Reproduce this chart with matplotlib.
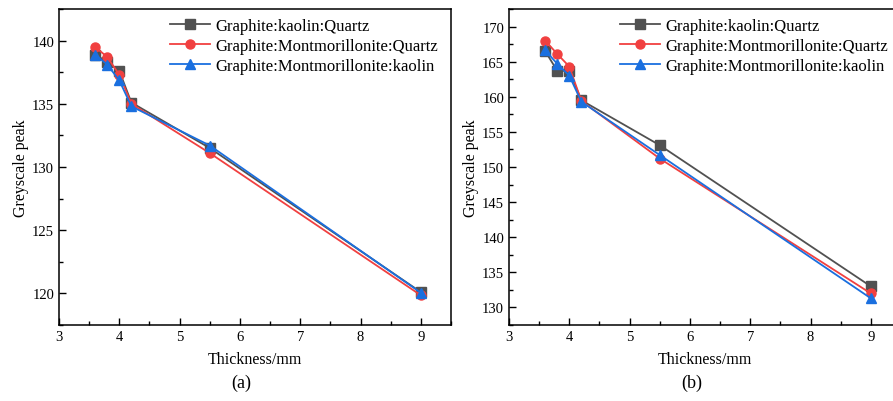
import numpy as np
import matplotlib.pyplot as plt
from matplotlib.ticker import MultipleLocator

plt.rcParams['font.family'] = ['Liberation Serif', 'DejaVu Serif']

# thickness values (mm)
thickness = [3.6, 3.8, 4.0, 4.2, 5.5, 9.0]

labels = ['Graphite:kaolin:Quartz',
          'Graphite:Montmorillonite:Quartz',
          'Graphite:Montmorillonite:kaolin']

# (a) greyscale peaks
a_kq = [138.9, 138.3, 137.6, 135.1, 131.5, 120.1]
a_mq = [139.5, 138.7, 137.3, 135.0, 131.1, 119.85]
a_mk = [138.9, 138.1, 136.85, 134.8, 131.7, 120.05]

# (b) greyscale peaks
b_kq = [166.5, 163.7, 163.7, 159.5, 153.1, 133.0]
b_mq = [168.0, 166.1, 164.3, 159.4, 151.2, 132.0]
b_mk = [166.6, 164.7, 163.0, 159.3, 151.7, 131.3]

colors = ['#515151', '#F14040', '#1A6FDF']
markers = ['s', 'o', '^']


def plotPanel(ax, series, ylim, tag):
    for y, lab, c, m in zip(series, labels, colors, markers):
        ax.plot(thickness, y, color = c, marker = m, markersize = 6.5, linewidth = 1.3, label = lab)

    ax.set_xlim(3, 9.5)
    ax.set_ylim(*ylim)
    ax.xaxis.set_major_locator(MultipleLocator(1))
    ax.xaxis.set_minor_locator(MultipleLocator(0.5))
    ax.yaxis.set_major_locator(MultipleLocator(5))
    ax.yaxis.set_minor_locator(MultipleLocator(2.5))
    ax.tick_params(which = 'both', direction = 'in', labelsize = 10.5, width = 1.0)
    ax.tick_params(which = 'major', length = 5)
    ax.tick_params(which = 'minor', length = 3)
    for s in ax.spines.values():
        s.set_linewidth(1.1)

    ax.set_xlabel('Thickness/mm', fontsize = 11.5, labelpad = 6)
    ax.set_ylabel('Greyscale peak', fontsize = 11.5, labelpad = 2)
    ax.legend(loc = 'upper left', bbox_to_anchor = (0.245, 1.02), frameon = False,
              fontsize = 12, handlelength = 2.4, handletextpad = 0.3, labelspacing = 0.25)
    ax.text(0.465, -0.18, tag, transform = ax.transAxes, ha = 'center', va = 'center', fontsize = 13)


fig = plt.figure(figsize = (8.93, 4.02), dpi = 100)

ax1 = fig.add_axes([59 / 893, 76 / 402, 392 / 893, 316 / 402])
plotPanel(ax1, [a_kq, a_mq, a_mk], (117.5, 142.5), '(a)')

ax2 = fig.add_axes([509 / 893, 76 / 402, 392 / 893, 316 / 402])
plotPanel(ax2, [b_kq, b_mq, b_mk], (127.5, 172.5), '(b)')

plt.savefig('out.png', dpi = 100)
